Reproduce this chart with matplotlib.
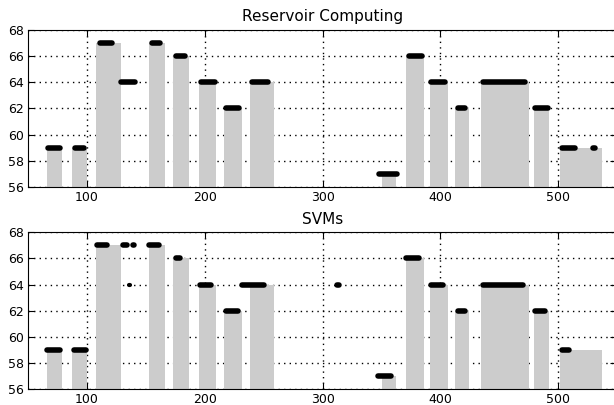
#!/usr/bin/env python3
import matplotlib
matplotlib.use("Agg")
import matplotlib.pyplot as plt

# ground truth notes: onset, offset (frames), pitch
note_on = [66, 87, 108, 153, 173, 195, 216, 238, 350, 371, 391, 412, 434, 479, 501]
note_off = [79, 100, 129, 166, 187, 210, 232, 259, 362, 386, 406, 424, 475, 492, 537]
note_pitch = [59, 59, 67, 67, 66, 64, 62, 64, 57, 66, 64, 62, 64, 62, 59]

# predicted segments: start frame, end frame, pitch
rc_start = [67, 90, 111, 129, 155, 176, 197, 218, 240, 348, 373, 392, 415, 436, 480, 503, 529]
rc_end = [77, 98, 121, 141, 162, 183, 209, 229, 254, 363, 384, 404, 421, 472, 491, 514, 531]
rc_pitch = [59, 59, 67, 64, 67, 66, 64, 62, 64, 57, 66, 64, 62, 64, 62, 59, 59]

svm_start = [66, 89, 109, 131, 139, 136, 153, 176, 196, 218, 232, 291, 312, 347, 371, 392, 415, 436, 480, 503]
svm_end = [77, 99, 117, 134, 140, 136, 161, 179, 205, 228, 250, 291, 314, 358, 382, 402, 421, 470, 489, 509]
svm_pitch = [59, 59, 67, 67, 67, 64, 67, 66, 64, 62, 64, 57, 64, 57, 66, 64, 62, 64, 62, 59]

titles = ["Reservoir Computing", "SVMs"]
yticks = [56, 58, 60, 62, 64, 66, 68]
xticks = [100, 200, 300, 400, 500]


def draw_panel(ax, title, starts, ends, pitches):
    widths = [off - on for on, off in zip(note_on, note_off)]
    ax.bar(note_on, note_pitch, width=widths, align="edge",
           color="#cccccc", edgecolor="none", zorder=2)
    for s, e, p in zip(starts, ends, pitches):
        single = e <= s
        if single:
            e = s + 0.3
        ax.plot([s, e], [p, p], color="black",
                linewidth=3.0 if single else 4.0,
                solid_capstyle="round", zorder=3)
    ax.set_xlim(50.5, 549)
    ax.set_ylim(56, 68)
    ax.set_yticks(yticks)
    ax.set_xticks(xticks)
    ax.grid(True, color="black", linestyle=(0, (1, 3)), linewidth=1.0, zorder=1)
    ax.set_axisbelow(True)
    ax.tick_params(direction="in", length=4, labelsize=9, pad=3, top=True, right=True)
    ax.set_title(title, fontsize=11)


fig = plt.figure(figsize=(6.14, 4.05), dpi=100)
ax1 = fig.add_axes([0.0464, 0.538, 0.957, 0.389])
ax2 = fig.add_axes([0.0464, 0.0388, 0.957, 0.3876])

draw_panel(ax1, titles[0], rc_start, rc_end, rc_pitch)
draw_panel(ax2, titles[1], svm_start, svm_end, svm_pitch)

fig.savefig("out.png", dpi=100)
